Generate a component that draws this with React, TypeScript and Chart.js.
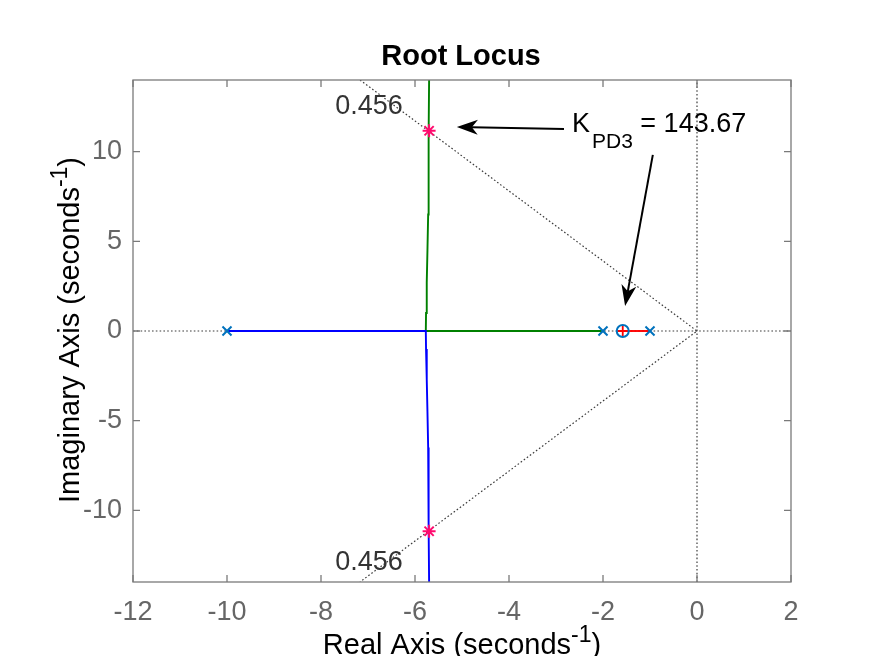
import React, { useEffect, useRef } from 'react';
import { Chart, registerables } from 'chart.js';

Chart.register(...registerables);

const FONT = '"Liberation Sans", Arial, Helvetica, sans-serif';
const AXIS_COLOR = '#7a7a7a';
const TICK_TEXT = '#666666';

// ---- axes ----
const xRange = [-12, 2];
const yRange = [-14, 14];
const xTickValues = [-12, -10, -8, -6, -4, -2, 0, 2];
const yTickValues = [-10, -5, 0, 5, 10];

// ---- open-loop poles and zeros ----
const polesX = [-10, -2, -1];
const polesY = [0, 0, 0];
const zerosX = [-1.58];
const zerosY = [0];

// ---- root locus branches ----
const blueX = [-10, -5.77, -5.765, -5.75, -5.735, -5.72, -5.71, -5.7];
const blueY = [0, 0, -1, -2.7, -4.5, -6.5, -11, -14];
const greenX = [-2, -5.77, -5.765, -5.75, -5.735, -5.72, -5.71, -5.7];
const greenY = [0, 0, 1, 2.7, 4.5, 6.5, 11, 14];
const redX = [-1, -1.58];
const redY = [0, 0];

// ---- closed-loop poles at selected gain ----
const clPolesX = [-5.7, -5.7];
const clPolesY = [11.17, -11.17];
const clRealPoleX = [-1.58];
const clRealPoleY = [0];

// ---- damping ratio line ----
const zetaLabel = '0.456';
const zetaLineX = [-7.17, 0, -7.17];
const zetaLineY = [14, 0, -14];

// ---- grid axes lines ----
const hLineX = [-12, 2];
const hLineY = [0, 0];
const vLineX = [0, 0];
const vLineY = [-14, 14];

const gainText = '143.67';

// annotation anchors (data units)
const ANNOT = {
  zetaTop: { x: -6.26, y: 12.1 },
  zetaBottom: { x: -6.26, y: -13.33 },
  kText: { x: -2.66, y: 11.1 },
  arrow1: { from: { x: -2.83, y: 11.27 }, to: { x: -5.11, y: 11.38 } },
  arrow2: { from: { x: -0.94, y: 9.82 }, to: { x: -1.53, y: 1.39 } },
};

const toPts = (xs: number[], ys: number[]) => xs.map((x, i) => ({ x, y: ys[i] }));

function drawArrow(ctx: CanvasRenderingContext2D, x1: number, y1: number, x2: number, y2: number) {
  const a = Math.atan2(y2 - y1, x2 - x1);
  const c = Math.cos(a);
  const s = Math.sin(a);
  const L = 21;
  const W = 7.5;
  const N = 15;
  ctx.strokeStyle = '#000';
  ctx.fillStyle = '#000';
  ctx.lineWidth = 2;
  ctx.beginPath();
  ctx.moveTo(x1, y1);
  ctx.lineTo(x2 - N * c, y2 - N * s);
  ctx.stroke();
  ctx.beginPath();
  ctx.moveTo(x2, y2);
  ctx.lineTo(x2 - L * c + W * s, y2 - L * s - W * c);
  ctx.lineTo(x2 - N * c, y2 - N * s);
  ctx.lineTo(x2 - L * c - W * s, y2 - L * s + W * c);
  ctx.closePath();
  ctx.fill();
}

function drawSupText(
  ctx: CanvasRenderingContext2D,
  main: string,
  sup: string,
  tail: string,
  size: number,
  cx: number,
  baseY: number
) {
  const supSize = Math.round(size * 0.78);
  ctx.font = `${size}px ${FONT}`;
  const w1 = ctx.measureText(main).width;
  const w3 = ctx.measureText(tail).width;
  ctx.font = `${supSize}px ${FONT}`;
  const w2 = ctx.measureText(sup).width;
  const total = w1 + w2 + w3;
  let x = cx - total / 2;
  ctx.textAlign = 'left';
  ctx.textBaseline = 'alphabetic';
  ctx.font = `${size}px ${FONT}`;
  ctx.fillText(main, x, baseY);
  x += w1;
  ctx.font = `${supSize}px ${FONT}`;
  ctx.fillText(sup, x, baseY - size * 0.42);
  x += w2;
  ctx.font = `${size}px ${FONT}`;
  ctx.fillText(tail, x, baseY);
}

const decorPlugin = {
  id: 'decor',
  afterDraw(chart: any) {
    const ctx: CanvasRenderingContext2D = chart.ctx;
    const { left, right, top, bottom } = chart.chartArea;
    const xs = chart.scales.x;
    const ys = chart.scales.y;
    ctx.save();

    // frame
    ctx.strokeStyle = AXIS_COLOR;
    ctx.lineWidth = 1.3;
    ctx.strokeRect(left, top, right - left, bottom - top);

    // inward ticks on all four sides
    const tl = 7;
    ctx.beginPath();
    xTickValues.forEach((v) => {
      const px = xs.getPixelForValue(v);
      ctx.moveTo(px, bottom);
      ctx.lineTo(px, bottom - tl);
      ctx.moveTo(px, top);
      ctx.lineTo(px, top + tl);
    });
    yTickValues.forEach((v) => {
      const py = ys.getPixelForValue(v);
      ctx.moveTo(left, py);
      ctx.lineTo(left + tl, py);
      ctx.moveTo(right, py);
      ctx.lineTo(right - tl, py);
    });
    ctx.stroke();

    // title
    const cx = (left + right) / 2;
    ctx.fillStyle = '#000';
    ctx.font = `bold 29px ${FONT}`;
    ctx.textAlign = 'center';
    ctx.textBaseline = 'alphabetic';
    ctx.fillText('Root Locus', cx - 1, 65);

    // x label
    ctx.fillStyle = '#000';
    drawSupText(ctx, 'Real Axis (seconds', '-1', ')', 29, cx, 654);

    // y label
    ctx.save();
    ctx.translate(79, 330);
    ctx.rotate(-Math.PI / 2);
    drawSupText(ctx, 'Imaginary Axis (seconds', '-1', ')', 29, 0, 0);
    ctx.restore();

    // zeta labels
    ctx.fillStyle = '#333333';
    ctx.font = `27px ${FONT}`;
    ctx.textAlign = 'right';
    ctx.textBaseline = 'alphabetic';
    ctx.fillText(zetaLabel, xs.getPixelForValue(ANNOT.zetaTop.x), ys.getPixelForValue(ANNOT.zetaTop.y));
    ctx.fillText(zetaLabel, xs.getPixelForValue(ANNOT.zetaBottom.x), ys.getPixelForValue(ANNOT.zetaBottom.y));

    // gain annotation
    ctx.fillStyle = '#000';
    ctx.textAlign = 'left';
    let kx = xs.getPixelForValue(ANNOT.kText.x);
    const ky = ys.getPixelForValue(ANNOT.kText.y);
    ctx.font = `27px ${FONT}`;
    ctx.fillText('K', kx, ky);
    kx += ctx.measureText('K').width + 2;
    ctx.font = `21px ${FONT}`;
    ctx.fillText('PD3', kx, ky + 16);
    kx += ctx.measureText('PD3').width;
    ctx.font = `27px ${FONT}`;
    ctx.fillText(' = ' + gainText, kx, ky);

    // arrows
    const a1 = ANNOT.arrow1;
    drawArrow(
      ctx,
      xs.getPixelForValue(a1.from.x),
      ys.getPixelForValue(a1.from.y),
      xs.getPixelForValue(a1.to.x),
      ys.getPixelForValue(a1.to.y)
    );
    const a2 = ANNOT.arrow2;
    drawArrow(
      ctx,
      xs.getPixelForValue(a2.from.x),
      ys.getPixelForValue(a2.from.y),
      xs.getPixelForValue(a2.to.x),
      ys.getPixelForValue(a2.to.y)
    );

    ctx.restore();
  },
};

export default function App() {
  const ref = useRef<HTMLCanvasElement>(null);

  useEffect(() => {
    document.body.style.margin = '0';
    const dotted = {
      showLine: true,
      pointRadius: 0,
      borderColor: '#3c3c3c',
      borderWidth: 1.2,
      borderDash: [1.6, 2.2],
      fill: false,
      order: 10,
    };
    const chart = new Chart(ref.current as HTMLCanvasElement, {
      type: 'scatter',
      data: {
        datasets: [
          { ...dotted, data: toPts(hLineX, hLineY) },
          { ...dotted, data: toPts(vLineX, vLineY) },
          { ...dotted, data: toPts(zetaLineX, zetaLineY) },
          {
            data: toPts(blueX, blueY),
            showLine: true,
            pointRadius: 0,
            borderColor: '#0000ff',
            borderWidth: 1.9,
            order: 5,
          },
          {
            data: toPts(greenX, greenY),
            showLine: true,
            pointRadius: 0,
            borderColor: '#008000',
            borderWidth: 1.9,
            order: 5,
          },
          {
            data: toPts(redX, redY),
            showLine: true,
            pointRadius: 0,
            borderColor: '#ff0000',
            borderWidth: 1.9,
            order: 5,
          },
          {
            data: toPts(clRealPoleX, clRealPoleY),
            showLine: false,
            pointStyle: 'cross',
            pointRadius: 5.5,
            borderColor: '#ff0000',
            backgroundColor: '#ff0000',
            pointBorderWidth: 1.8,
            order: 4,
          },
          {
            data: toPts(polesX, polesY),
            showLine: false,
            pointStyle: 'crossRot',
            pointRadius: 6.4,
            borderColor: '#0072BD',
            backgroundColor: '#0072BD',
            pointBorderWidth: 2,
            order: 2,
          },
          {
            data: toPts(zerosX, zerosY),
            showLine: false,
            pointStyle: 'circle',
            pointRadius: 6,
            borderColor: '#0072BD',
            backgroundColor: 'rgba(0,0,0,0)',
            pointBorderWidth: 2,
            order: 2,
          },
          {
            data: toPts(clPolesX, clPolesY),
            showLine: false,
            pointStyle: 'star',
            pointRadius: 6.5,
            borderColor: '#ff0a6e',
            backgroundColor: '#ff0a6e',
            pointBorderWidth: 2,
            order: 1,
          },
        ],
      },
      options: {
        responsive: false,
        animation: false,
        devicePixelRatio: 1,
        events: [],
        layout: { padding: { top: 80, right: 84, left: 0, bottom: 0 } },
        plugins: {
          legend: { display: false },
          tooltip: { enabled: false },
          title: { display: false },
        },
        scales: {
          x: {
            type: 'linear',
            min: xRange[0],
            max: xRange[1],
            grid: { display: false, drawTicks: false },
            border: { display: false },
            afterBuildTicks: (scale: any) => {
              scale.ticks = xTickValues.map((v) => ({ value: v }));
            },
            afterFit: (scale: any) => {
              scale.height = 74;
            },
            ticks: {
              autoSkip: false,
              maxRotation: 0,
              padding: 14,
              color: TICK_TEXT,
              font: { family: FONT, size: 27 },
              callback: (v: any) => String(v),
            },
          },
          y: {
            type: 'linear',
            min: yRange[0],
            max: yRange[1],
            grid: { display: false, drawTicks: false },
            border: { display: false },
            afterBuildTicks: (scale: any) => {
              scale.ticks = yTickValues.map((v) => ({ value: v }));
            },
            afterFit: (scale: any) => {
              scale.width = 133;
            },
            ticks: {
              autoSkip: false,
              padding: 11,
              color: TICK_TEXT,
              font: { family: FONT, size: 27 },
              callback: (v: any) => String(v),
            },
          },
        },
      },
      plugins: [decorPlugin],
    } as any);
    return () => chart.destroy();
  }, []);

  return (
    <div style={{ width: 875, height: 656 }}>
      <canvas ref={ref} width={875} height={656} style={{ display: 'block' }} />
    </div>
  );
}
